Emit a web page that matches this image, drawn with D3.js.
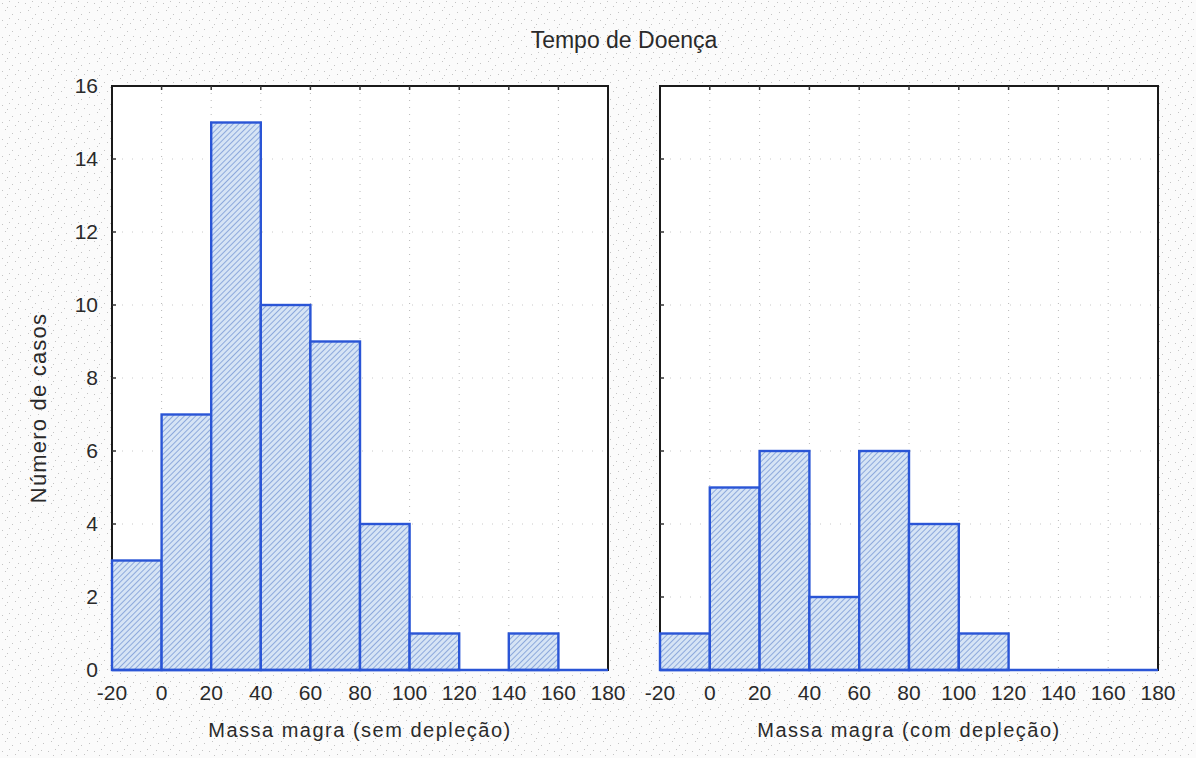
<!DOCTYPE html>
<html>
<head>
<meta charset="utf-8">
<script src="https://cdn.jsdelivr.net/npm/d3@7"></script>
<style>
  body { margin: 0; background: #fff; }
  text { font-family: "Liberation Sans", Arial, sans-serif; fill: #2a2a2a; }
  text.tick { font-family: "Liberation Sans Narrow", "Liberation Sans", Arial, sans-serif; }
</style>
</head>
<body>
<svg id="chart"></svg>
<script>
const width = 1196;
const height = 758;

// bin edges (Massa magra) and counts per panel
const binEdges = [-20, 0, 20, 40, 60, 80, 100, 120, 140, 160, 180];
const countsSem = [3, 7, 15, 10, 9, 4, 1, 0, 1, 0];
const countsCom = [1, 5, 6, 2, 6, 4, 1, 0, 0, 0];
const yTicks = [0, 2, 4, 6, 8, 10, 12, 14, 16];

const title = "Tempo de Doença";
const yLabel = "Número de casos";
const panels = [
    { label: "Massa magra (sem depleção)", counts: countsSem, x0: 112, x1: 608 },
    { label: "Massa magra (com depleção)", counts: countsCom, x0: 660, x1: 1158 }
];

const plotTop = 86;
const plotBottom = 670;

const svg = d3.select("#chart")
    .attr("width", width)
    .attr("height", height);

const defs = svg.append("defs");

// speckled scan background
const speck = defs.append("pattern")
    .attr("id", "speck")
    .attr("width", 23)
    .attr("height", 17)
    .attr("patternUnits", "userSpaceOnUse");
speck.append("rect").attr("width", 23).attr("height", 17).attr("fill", "#fbfbfb");
[[2, 3], [9, 1], [15, 6], [20, 12], [5, 10], [12, 14], [18, 2], [7, 7]].forEach(p => {
    speck.append("rect").attr("x", p[0]).attr("y", p[1])
        .attr("width", 1).attr("height", 1).attr("fill", "#c4c4c4");
});

// hatch fill for bars
const hatch = defs.append("pattern")
    .attr("id", "hatch")
    .attr("width", 4)
    .attr("height", 4)
    .attr("patternUnits", "userSpaceOnUse")
    .attr("patternTransform", "rotate(45)");
hatch.append("rect").attr("width", 4).attr("height", 4).attr("fill", "#d6e4f5");
hatch.append("line").attr("x1", 0).attr("y1", 0).attr("x2", 0).attr("y2", 4)
    .attr("stroke", "#809ed8").attr("stroke-width", 1.7);

svg.append("rect")
    .attr("width", width)
    .attr("height", height)
    .attr("fill", "url(#speck)");

const yScale = d3.scaleLinear()
    .domain([0, 16])
    .range([plotBottom, plotTop]);

panels.forEach((p, i) => {
    const xScale = d3.scaleLinear()
        .domain([binEdges[0], binEdges[binEdges.length - 1]])
        .range([p.x0, p.x1]);

    const g = svg.append("g");

    g.append("rect")
        .attr("x", p.x0)
        .attr("y", plotTop)
        .attr("width", p.x1 - p.x0)
        .attr("height", plotBottom - plotTop)
        .attr("fill", "#fff");

    // dotted grid
    g.selectAll(".vgrid")
        .data(binEdges.slice(1, -1))
        .enter()
        .append("line")
        .attr("x1", d => xScale(d))
        .attr("x2", d => xScale(d))
        .attr("y1", plotTop)
        .attr("y2", plotBottom)
        .attr("stroke", "#b8b8b8")
        .attr("stroke-width", 1)
        .attr("stroke-dasharray", "1,6");

    g.selectAll(".hgrid")
        .data(yTicks.slice(1, -1))
        .enter()
        .append("line")
        .attr("x1", p.x0)
        .attr("x2", p.x1)
        .attr("y1", d => yScale(d))
        .attr("y2", d => yScale(d))
        .attr("stroke", "#c8c8c8")
        .attr("stroke-width", 1)
        .attr("stroke-dasharray", "1,9");

    // frame
    g.append("rect")
        .attr("x", p.x0)
        .attr("y", plotTop)
        .attr("width", p.x1 - p.x0)
        .attr("height", plotBottom - plotTop)
        .attr("fill", "none")
        .attr("stroke", "#1a1a1a")
        .attr("stroke-width", 2);

    // inner ticks on top edge
    g.selectAll(".ttick")
        .data(binEdges.slice(1, -1))
        .enter()
        .append("line")
        .attr("x1", d => xScale(d))
        .attr("x2", d => xScale(d))
        .attr("y1", plotTop)
        .attr("y2", plotTop + 4)
        .attr("stroke", "#333")
        .attr("stroke-width", 1.5);

    // inner ticks on left edge
    g.selectAll(".ltick")
        .data(yTicks.slice(1, -1))
        .enter()
        .append("line")
        .attr("x1", p.x0)
        .attr("x2", p.x0 + 4)
        .attr("y1", d => yScale(d))
        .attr("y2", d => yScale(d))
        .attr("stroke", "#333")
        .attr("stroke-width", 1.5);

    // bars
    const bins = p.counts.map((c, k) => ({ a: binEdges[k], b: binEdges[k + 1], c: c }));
    g.selectAll(".bar")
        .data(bins)
        .enter()
        .append("rect")
        .attr("x", d => xScale(d.a))
        .attr("y", d => yScale(d.c))
        .attr("width", d => xScale(d.b) - xScale(d.a))
        .attr("height", d => yScale(0) - yScale(d.c))
        .attr("fill", "url(#hatch)")
        .attr("stroke", "#2a55d6")
        .attr("stroke-width", 2.4);

    // empty bins still draw their outline along the base
    g.append("line")
        .attr("x1", p.x0)
        .attr("x2", p.x1)
        .attr("y1", yScale(0))
        .attr("y2", yScale(0))
        .attr("stroke", "#2a55d6")
        .attr("stroke-width", 2.4);

    // x tick labels
    g.selectAll(".xlab")
        .data(binEdges)
        .enter()
        .append("text")
        .attr("class", "tick")
        .attr("x", d => xScale(d))
        .attr("y", 700)
        .attr("text-anchor", "middle")
        .attr("font-size", 21)
        .text(d => d);

    g.append("text")
        .attr("x", (p.x0 + p.x1) / 2)
        .attr("y", 737)
        .attr("text-anchor", "middle")
        .attr("font-size", 20)
        .attr("letter-spacing", 1.5)
        .text(p.label);

    if (i === 0) {
        g.selectAll(".ylab")
            .data(yTicks)
            .enter()
            .append("text")
            .attr("class", "tick")
            .attr("x", 98)
            .attr("y", d => yScale(d) + 7)
            .attr("text-anchor", "end")
            .attr("font-size", 21)
            .text(d => d);
    }
});

svg.append("text")
    .attr("x", 624)
    .attr("y", 48)
    .attr("text-anchor", "middle")
    .attr("font-size", 23)
    .text(title);

svg.append("text")
    .attr("transform", "rotate(-90)")
    .attr("x", -408)
    .attr("y", 46)
    .attr("text-anchor", "middle")
    .attr("font-size", 22)
    .attr("letter-spacing", 1.2)
    .text(yLabel);
</script>
</body>
</html>
